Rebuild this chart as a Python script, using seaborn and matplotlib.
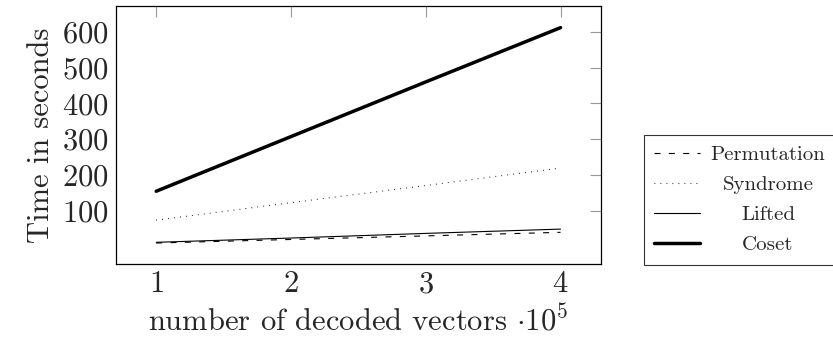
import numpy as np
import pandas as pd
import seaborn as sns
import matplotlib
matplotlib.use("Agg")
import matplotlib.pyplot as plt

# données (x en unités de 10^5 vecteurs)
x_vals = [1, 2, 3, 4]
permutation = [9, 19, 29, 39]
syndrome = [73, 122, 170, 219]
lifted = [11, 23, 36, 48]
coset = [154, 307, 460, 612]

series = ["Permutation", "Syndrome", "Lifted", "Coset"]
values = [permutation, syndrome, lifted, coset]

data = pd.DataFrame({
    "x": x_vals * len(series),
    "y": sum(values, []),
    "method": sum([[s] * len(x_vals) for s in series], []),
})

sns.set_style("white")
plt.rcParams["font.family"] = ["cmr10", "DejaVu Serif"]
plt.rcParams["mathtext.fontset"] = "cm"
plt.rcParams["axes.formatter.use_mathtext"] = True

fig = plt.figure(figsize=(8.33, 3.43), dpi=100)
ax = fig.add_axes([0.139, 0.230, 0.5825, 0.753])

styles = {
    "Permutation": dict(linestyle=(0, (5.4, 7.5)), linewidth=0.8),
    "Syndrome": dict(linestyle=(0, (0.7, 4.7)), linewidth=0.8),
    "Lifted": dict(linestyle="-", linewidth=0.8),
    "Coset": dict(linestyle="-", linewidth=2.5),
}
for name in series:
    sub = data[data["method"] == name]
    sns.lineplot(data=sub, x="x", y="y", ax=ax, color="black",
                 label=name, **styles[name])

ax.set_xlim(0.7, 4.3)
ax.set_ylim(-50, 673)
ax.set_xticks([1, 2, 3, 4])
ax.set_yticks([100, 200, 300, 400, 500, 600])
ax.tick_params(direction="in", length=8, width=0.8, color="0.6",
               top=True, right=True, labelsize=22, pad=5)
for sp in ax.spines.values():
    sp.set_color("black")
    sp.set_linewidth(0.9)

ax.set_xlabel(r"number of decoded vectors $\cdot 10^5$", fontsize=22, labelpad=4)
ax.set_ylabel("Time in seconds", fontsize=22, labelpad=5)

leg = ax.legend(loc="upper left", bbox_to_anchor=(0.773, 0.606),
                bbox_transform=fig.transFigure, fontsize=15, frameon=True,
                fancybox=False, edgecolor="black", handlelength=2.2,
                labelspacing=0.55, borderpad=0.5, handletextpad=0.5,
                borderaxespad=0)
leg.get_frame().set_linewidth(0.8)

# centrer les libellés de la légende dans leur colonne (comme pgfplots)
fig.canvas.draw()
widths = [t.get_window_extent().width for t in leg.get_texts()]
wmax = max(widths)
for t, w in zip(leg.get_texts(), widths):
    t.set_x((wmax - w) / 2)

fig.savefig("out.png", dpi=100)
